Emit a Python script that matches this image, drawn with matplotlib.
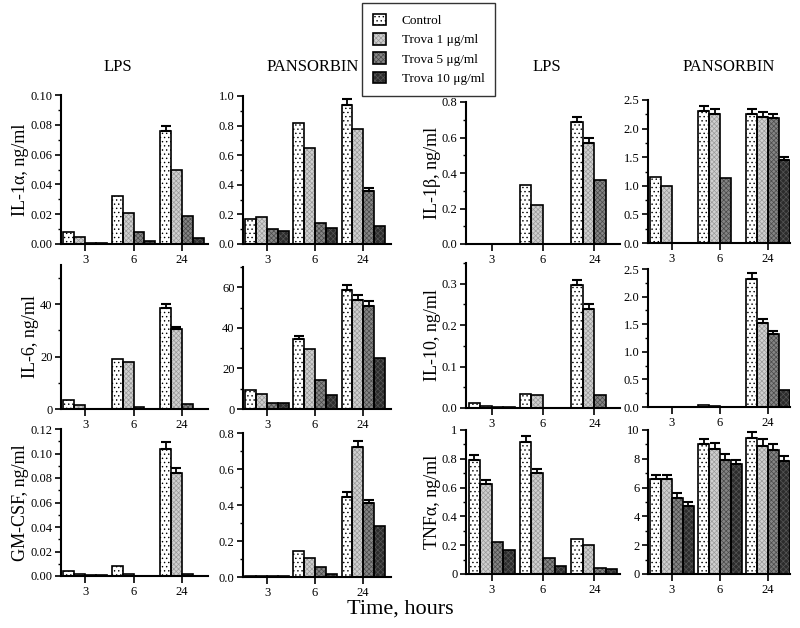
import matplotlib
matplotlib.use("Agg")
import matplotlib.pyplot as plt
import numpy as np

plt.rcParams['font.family'] = ['Liberation Serif', 'DejaVu Serif']
plt.rcParams['hatch.linewidth'] = 0.5

# ---------------- data ----------------
hours = ['3', '6', '24']
treatments = ['Control', 'Trova 1 μg/ml', 'Trova 5 μg/ml', 'Trova 10 μg/ml']

# each list: values for [3h, 6h, 24h]; rows = Control, Trova1, Trova5, Trova10
il1a_lps = [[0.008, 0.032, 0.076], [0.005, 0.021, 0.050], [0.0008, 0.008, 0.019], [0.0008, 0.002, 0.004]]
il1a_lps_err = [[0, 0, 0.003], [0, 0, 0], [0, 0, 0], [0, 0, 0]]
il1a_pan = [[0.17, 0.82, 0.94], [0.18, 0.65, 0.78], [0.10, 0.14, 0.36], [0.085, 0.105, 0.12]]
il1a_pan_err = [[0, 0, 0.04], [0, 0, 0], [0, 0, 0.02], [0, 0, 0]]
il1b_lps = [[0, 0.33, 0.685], [0, 0.22, 0.57], [0, 0, 0.36], [0, 0, 0]]
il1b_lps_err = [[0, 0, 0.03], [0, 0, 0.025], [0, 0, 0], [0, 0, 0]]
il1b_pan = [[1.15, 2.30, 2.25], [1.0, 2.25, 2.21], [0, 1.13, 2.18], [0, 0, 1.45]]
il1b_pan_err = [[0, 0.09, 0.09], [0, 0.09, 0.08], [0, 0, 0.08], [0, 0, 0.05]]

il6_lps = [[3.5, 19, 38.5], [1.5, 18, 30.5], [0, 0.8, 2], [0, 0, 0]]
il6_lps_err = [[0, 0, 1.5], [0, 0, 1.0], [0, 0, 0], [0, 0, 0]]
il6_pan = [[9.5, 34.5, 58.5], [7.5, 29.5, 53.5], [3.0, 14.5, 51], [3.0, 7.0, 25]]
il6_pan_err = [[0, 1.5, 2.5], [0, 0, 2.5], [0, 0, 2.0], [0, 0, 0]]
il10_lps = [[0.012, 0.035, 0.298], [0.006, 0.032, 0.24], [0.003, 0, 0.032], [0.003, 0, 0]]
il10_lps_err = [[0, 0, 0.012], [0, 0, 0.01], [0, 0, 0], [0, 0, 0]]
il10_pan = [[0.006, 0.03, 2.32], [0.006, 0.02, 1.53], [0.006, 0, 1.32], [0.006, 0, 0.30]]
il10_pan_err = [[0, 0, 0.1], [0, 0, 0.06], [0, 0, 0.06], [0, 0, 0]]

gmcsf_lps = [[0.004, 0.008, 0.104], [0.002, 0.002, 0.084], [0.0008, 0, 0.002], [0.0008, 0, 0]]
gmcsf_lps_err = [[0, 0, 0.005], [0, 0, 0.004], [0, 0, 0], [0, 0, 0]]
gmcsf_pan = [[0.008, 0.145, 0.445], [0.008, 0.105, 0.72], [0.003, 0.055, 0.41], [0.003, 0.015, 0.285]]
gmcsf_pan_err = [[0, 0, 0.025], [0, 0, 0.035], [0, 0, 0.02], [0, 0, 0]]
tnf_lps = [[0.79, 0.92, 0.245], [0.625, 0.70, 0.20], [0.22, 0.11, 0.04], [0.17, 0.055, 0.035]]
tnf_lps_err = [[0.035, 0.04, 0], [0.03, 0.03, 0], [0, 0, 0], [0, 0, 0]]
tnf_pan = [[6.6, 9.0, 9.45], [6.6, 8.7, 8.9], [5.3, 7.95, 8.6], [4.75, 7.65, 7.85]]
tnf_pan_err = [[0.3, 0.4, 0.4], [0.3, 0.4, 0.45], [0.3, 0.4, 0.4], [0.25, 0.3, 0.35]]

# tick labels
t_il1a_lps = ['0.00', '0.02', '0.04', '0.06', '0.08', '0.10']
t_il1a_pan = ['0.0', '0.2', '0.4', '0.6', '0.8', '1.0']
t_il1b_lps = ['0.0', '0.2', '0.4', '0.6', '0.8']
t_25 = ['0.0', '0.5', '1.0', '1.5', '2.0', '2.5']
t_il6_lps = ['0', '20', '40']
t_il6_pan = ['0', '20', '40', '60']
t_il10_lps = ['0.0', '0.1', '0.2', '0.3']
t_gmcsf_lps = ['0.00', '0.02', '0.04', '0.06', '0.08', '0.10', '0.12']
t_gmcsf_pan = ['0.0', '0.2', '0.4', '0.6', '0.8']
t_tnf_lps = ['0', '0.2', '0.4', '0.6', '0.8', '1']
t_tnf_pan = ['0', '2', '4', '6', '8', '10']

# ---------------- style ----------------
faces = ['white', '#d0d0d0', '#858585', '#2c2c2c']
hatches = ['....', 'xxxxxxx', 'xxxxxxx', 'xxxxxx']
hatch_colors = ['black', '#9a9a9a', '#4a4a4a', '#555555']

W, H = 800, 628
fig = plt.figure(figsize=(W / 100, H / 100), dpi=100)

col_x = [(61, 208, 2.54), (243, 391, 2.58), (466, 620, 2.50), (648, 790, 2.46)]

panels = [
    (0, 0, il1a_lps, il1a_lps_err, 0.10, 0.02, 0.01, t_il1a_lps, 95, 244, 'IL-1α, ng/ml'),
    (0, 1, il1a_pan, il1a_pan_err, 1.0, 0.2, 0.1, t_il1a_pan, 96, 244, None),
    (0, 2, il1b_lps, il1b_lps_err, 0.8, 0.2, 0.1, t_il1b_lps, 102, 244, 'IL-1β, ng/ml'),
    (0, 3, il1b_pan, il1b_pan_err, 2.5, 0.5, 0.25, t_25, 100, 243, None),
    (1, 0, il6_lps, il6_lps_err, 55, 20, 10, t_il6_lps, 265, 409, 'IL-6, ng/ml'),
    (1, 1, il6_pan, il6_pan_err, 70, 20, 10, t_il6_pan, 267, 409, None),
    (1, 2, il10_lps, il10_lps_err, 0.35, 0.1, 0.05, t_il10_lps, 263, 408, 'IL-10, ng/ml'),
    (1, 3, il10_pan, il10_pan_err, 2.5, 0.5, 0.25, t_25, 269, 407, None),
    (2, 0, gmcsf_lps, gmcsf_lps_err, 0.12, 0.02, 0.01, t_gmcsf_lps, 429, 576, 'GM-CSF, ng/ml'),
    (2, 1, gmcsf_pan, gmcsf_pan_err, 0.8, 0.2, 0.1, t_gmcsf_pan, 433, 577, None),
    (2, 2, tnf_lps, tnf_lps_err, 1.0, 0.2, 0.1, t_tnf_lps, 430, 574, 'TNFα, ng/ml'),
    (2, 3, tnf_pan, tnf_pan_err, 10, 2, 1, t_tnf_pan, 430, 574, None),
]

bw = 0.225
x = np.arange(len(hours))
handles = None
for (r, c, data, err, ymax, major, minor, tl, ytop, ybot, ylab) in panels:
    x0, x1, xr = col_x[c]
    ax = fig.add_axes([x0 / W, 1 - ybot / H, (x1 - x0) / W, (ybot - ytop) / H])
    ax.patch.set_visible(False)
    hs = []
    for i in range(4):
        pos = x + (i - 1.5) * bw
        b1 = ax.bar(pos, data[i], bw, color=faces[i], edgecolor=hatch_colors[i],
                    linewidth=0, hatch=hatches[i], zorder=2)
        b2 = ax.bar(pos, data[i], bw, fill=False, edgecolor='black',
                    linewidth=1.2, zorder=2.5)
        hs.append((b1, b2))
        e = np.array(err[i], dtype=float)
        m = e > 0
        if m.any():
            v = np.array(data[i], dtype=float)
            ax.errorbar(pos[m], v[m], yerr=[np.zeros(m.sum()), e[m]], fmt='none',
                        ecolor='black', elinewidth=1.3, capsize=3.5, capthick=1.5, zorder=3)
    if handles is None:
        handles = hs
    ax.set_xlim(-0.5, xr)
    ax.set_ylim(0, ymax)
    ax.set_xticks(x)
    ax.set_xticklabels(hours)
    ax.set_yticks(np.arange(len(tl)) * major)
    ax.set_yticklabels(tl)
    ax.set_yticks(np.arange(0, ymax + 1e-9, minor), minor=True)
    ax.spines['top'].set_visible(False)
    ax.spines['right'].set_visible(False)
    ax.spines['left'].set_linewidth(1.5)
    ax.spines['bottom'].set_linewidth(1.5)
    ax.tick_params(axis='both', which='major', direction='out', length=4, width=1.2,
                   labelsize=9, pad=2)
    ax.tick_params(axis='x', which='major', length=5, pad=2)
    ax.tick_params(axis='y', which='minor', direction='out', length=2.5, width=1.0)
    if ylab:
        ax.set_ylabel(ylab, fontsize=13, labelpad=1)

# column titles
for xt, t in [(118, 'LPS'), (313, 'PANSORBIN'), (547, 'LPS'), (729, 'PANSORBIN')]:
    fig.text(xt / W, 1 - 67 / H, t, ha='center', va='center', fontsize=12)

# legend
leg = fig.legend(handles=handles, labels=treatments, loc='upper left',
                 bbox_to_anchor=(362 / W, 1 - 3 / H), fontsize=9.5,
                 frameon=True, fancybox=False, edgecolor='black',
                 handlelength=1.0, handleheight=1.0, handletextpad=1.2,
                 borderpad=0.8, labelspacing=0.45, borderaxespad=0)
leg.get_frame().set_linewidth(1.0)

fig.text(400 / W, 1 - 609 / H, 'Time, hours', ha='center', va='center', fontsize=16)

fig.savefig('out.png', dpi=100)
